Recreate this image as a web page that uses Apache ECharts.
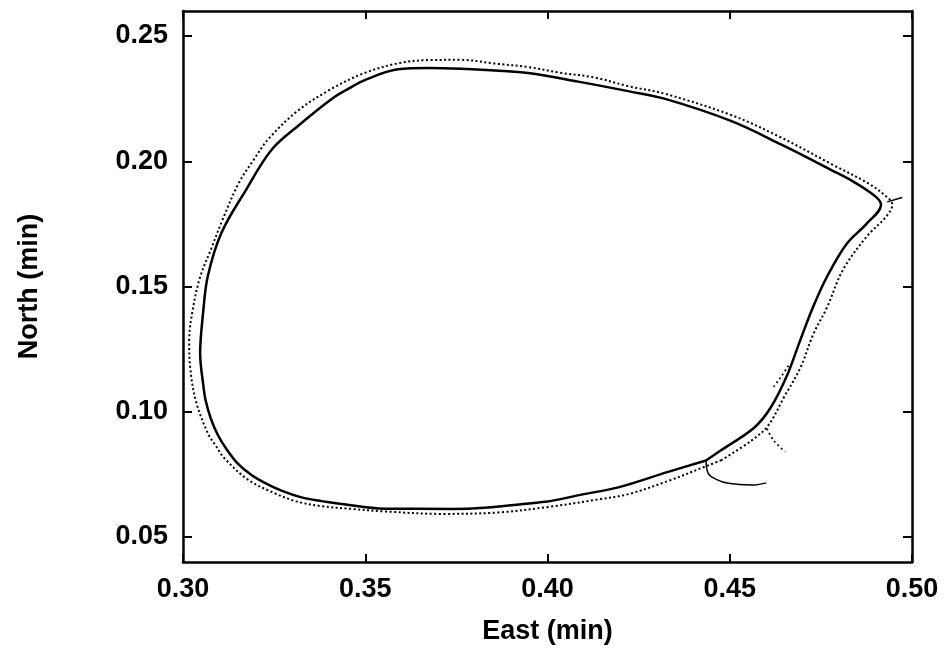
<!DOCTYPE html>
<html>
<head>
<meta charset="utf-8">
<title>East / North trajectory</title>
<script src="https://cdn.jsdelivr.net/npm/echarts@6/dist/echarts.min.js"></script>
<style>
  html, body { margin: 0; padding: 0; background: #ffffff; }
  #chart { width: 951px; height: 651px; }
</style>
</head>
<body>
<div id="chart"></div>
<script>
// Axis ticks (minutes of arc)
const eastTicks = [0.30, 0.35, 0.40, 0.45, 0.50];
const northTicks = [0.05, 0.10, 0.15, 0.20, 0.25];

// Inner trajectory loop, solid trace: [east, north]
const innerLoop = [
  [0.4435, 0.0805], [0.4476, 0.0846], [0.4566, 0.0935], [0.4612, 0.1016],
  [0.4658, 0.1148], [0.4693, 0.1284], [0.4728, 0.1416], [0.4766, 0.1537],
  [0.4820, 0.1669], [0.4875, 0.1750], [0.4915, 0.1826], [0.4901, 0.1858],
  [0.4841, 0.1917], [0.4780, 0.1964], [0.4642, 0.2066], [0.4505, 0.2160],
  [0.4323, 0.2249], [0.4221, 0.2280], [0.4084, 0.2318], [0.3947, 0.2352],
  [0.3856, 0.2362], [0.3763, 0.2369], [0.3672, 0.2372], [0.3590, 0.2367],
  [0.3500, 0.2325], [0.3453, 0.2289], [0.3407, 0.2248], [0.3317, 0.2143],
  [0.3243, 0.2046], [0.3173, 0.1886], [0.3105, 0.1713], [0.3068, 0.1541],
  [0.3055, 0.1393], [0.3047, 0.1233], [0.3056, 0.1102], [0.3062, 0.1046],
  [0.3076, 0.0974], [0.3096, 0.0906], [0.3121, 0.0847], [0.3149, 0.0795],
  [0.3187, 0.0748], [0.3223, 0.0717], [0.3270, 0.0685], [0.3325, 0.0658],
  [0.3380, 0.0643], [0.3435, 0.0632], [0.3553, 0.0613], [0.3737, 0.0612],
  [0.3827, 0.0617], [0.3956, 0.0635], [0.4011, 0.0644], [0.4093, 0.0669],
  [0.4194, 0.0698], [0.4331, 0.0760], [0.4435, 0.0805]
];

// Outer trajectory loop, dotted trace: [east, north]
const outerLoop = [
  [0.4476, 0.0806], [0.4558, 0.0883], [0.4605, 0.0944], [0.4648, 0.1056],
  [0.4694, 0.1176], [0.4729, 0.1309], [0.4767, 0.1417], [0.4810, 0.1565],
  [0.4875, 0.1698], [0.4929, 0.1779], [0.4946, 0.1827], [0.4937, 0.1850],
  [0.4882, 0.1910], [0.4780, 0.1988], [0.4642, 0.2094], [0.4505, 0.2184],
  [0.4323, 0.2269], [0.4221, 0.2300], [0.4131, 0.2334], [0.4037, 0.2353],
  [0.3947, 0.2376], [0.3856, 0.2390], [0.3762, 0.2405], [0.3672, 0.2404],
  [0.3590, 0.2391], [0.3499, 0.2353], [0.3406, 0.2288], [0.3316, 0.2203],
  [0.3235, 0.2090], [0.3194, 0.2006], [0.3153, 0.1913], [0.3108, 0.1765],
  [0.3078, 0.1653], [0.3046, 0.1533], [0.3025, 0.1393], [0.3017, 0.1285],
  [0.3020, 0.1173], [0.3035, 0.1045], [0.3068, 0.0914], [0.3091, 0.0862],
  [0.3113, 0.0815], [0.3179, 0.0728], [0.3248, 0.0677], [0.3311, 0.0642],
  [0.3380, 0.0623], [0.3462, 0.0612], [0.3553, 0.0602], [0.3709, 0.0592],
  [0.3866, 0.0598], [0.4003, 0.0620], [0.4140, 0.0650], [0.4222, 0.0671],
  [0.4332, 0.0724], [0.4441, 0.0786], [0.4476, 0.0806]
];

// Start-up transients joining the loops
const solidTail = [
  [0.4435, 0.0805], [0.4441, 0.0754], [0.4463, 0.0730], [0.4496, 0.0714],
  [0.4559, 0.0707], [0.4600, 0.0716]
];
const dottedTailLow = [
  [0.4602, 0.0932], [0.4621, 0.0884], [0.4652, 0.0840]
];
const dottedTailMid = [
  [0.4661, 0.1184], [0.4639, 0.1136], [0.4618, 0.1095]
];
const tipMark = [
  [0.4932, 0.1838], [0.4973, 0.1855]
];

const fmt = v => v.toFixed(2);
const fontFamily = '"Liberation Sans", Arial, Helvetica, sans-serif';
const ink = '#000000';
const textStyle = { color: ink, fontSize: 27, fontWeight: 'bold', fontFamily: fontFamily };

function frameAxis(extra) {
  return Object.assign({
    type: 'value',
    axisLine: { show: true, onZero: false, lineStyle: { color: ink, width: 2.5 } },
    splitLine: { show: false },
    axisLabel: { show: false }
  }, extra);
}

function ticks(values, len) {
  return { show: true, inside: true, length: len, customValues: values, lineStyle: { color: ink, width: 2 } };
}

const chart = echarts.init(document.getElementById('chart'), null, { renderer: 'canvas' });

chart.setOption({
  animation: false,
  backgroundColor: '#ffffff',
  grid: { left: 183, right: 39, top: 11, bottom: 89, containLabel: false, outerBoundsMode: 'none' },
  xAxis: [
    frameAxis({
      position: 'bottom', min: 0.30, max: 0.50,
      name: 'East (min)', nameLocation: 'middle', nameGap: 56,
      nameTextStyle: textStyle,
      axisTick: ticks(eastTicks, 8),
      axisLabel: Object.assign({ show: true, customValues: eastTicks, formatter: fmt, margin: 14 }, textStyle)
    }),
    frameAxis({
      position: 'top', min: 0.30, max: 0.50,
      axisTick: ticks(eastTicks, 8)
    })
  ],
  yAxis: [
    frameAxis({
      position: 'left', min: 0.04, max: 0.26,
      name: 'North (min)', nameLocation: 'middle', nameGap: 140, nameRotate: 90,
      nameTextStyle: textStyle,
      axisTick: ticks(northTicks, 9),
      axisLabel: Object.assign({ show: true, customValues: northTicks, formatter: fmt, margin: 15 }, textStyle)
    }),
    frameAxis({
      position: 'right', min: 0.04, max: 0.26,
      axisTick: ticks(northTicks, 9)
    })
  ],
  series: [
    {
      name: 'outer', type: 'line', data: outerLoop, smooth: 0.35,
      showSymbol: false, symbol: 'none', silent: true,
      lineStyle: { color: ink, width: 2, type: [2, 2.5] }
    },
    {
      name: 'inner', type: 'line', data: innerLoop, smooth: 0.35,
      showSymbol: false, symbol: 'none', silent: true,
      lineStyle: { color: ink, width: 2.5 }
    },
    {
      name: 'solid tail', type: 'line', data: solidTail, smooth: 0.4,
      showSymbol: false, symbol: 'none', silent: true,
      lineStyle: { color: ink, width: 1.5 }
    },
    {
      name: 'dotted tail low', type: 'line', data: dottedTailLow, smooth: 0.3,
      showSymbol: false, symbol: 'none', silent: true,
      lineStyle: { color: ink, width: 1.8, type: [1.8, 3] }
    },
    {
      name: 'dotted tail mid', type: 'line', data: dottedTailMid, smooth: 0.3,
      showSymbol: false, symbol: 'none', silent: true,
      lineStyle: { color: ink, width: 1.8, type: [1.8, 3] }
    },
    {
      name: 'tip mark', type: 'line', data: tipMark,
      showSymbol: false, symbol: 'none', silent: true,
      lineStyle: { color: ink, width: 1.5 }
    }
  ]
});
</script>
</body>
</html>
